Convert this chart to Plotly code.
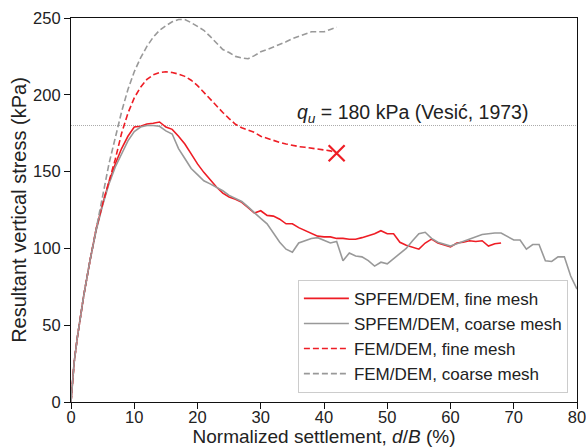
import plotly.graph_objects as go

# ---------------- data ----------------
sp_fine_x = [0, 0.5, 1, 2, 3, 4, 5, 6, 7, 8, 9, 10, 11, 12, 13, 14, 15, 16, 17, 18, 19, 20,
             21, 22, 23, 24, 25, 26, 27, 28, 29, 30, 31, 32, 33, 34, 35, 36, 37, 38, 39, 40,
             41, 42, 43, 44, 45, 46, 47, 48, 49, 50, 51, 52, 53, 54, 55, 56, 57, 58, 59, 60,
             61, 62, 63, 64, 65, 66, 67, 68]
sp_fine_y = [0, 26, 42, 69, 92, 113, 129, 143, 155, 165, 173, 179, 179.5, 181, 181.5, 182.3,
             179, 177.5, 173, 168, 161.5, 155, 149.5, 144.5, 140, 136, 133.5, 132, 130, 126.5,
             123, 124.5, 121.5, 121, 119, 116, 116, 113.5, 111.5, 110, 108, 107.5, 107.5, 106.5,
             106.5, 106, 106, 107, 108, 109.5, 111.5, 109.5, 109.5, 104, 102, 100.5, 99.5, 103.5,
             106, 103.5, 102.5, 101, 103.5, 104, 105, 104.5, 105, 101.5, 103, 103.5]

sp_coarse_x = [0, 0.5, 1, 2, 3, 4, 5, 6, 7, 8, 9, 10, 11, 12, 13, 14, 15, 16, 17, 18, 19, 20,
               21, 22, 23, 24, 25, 26, 27, 28, 29, 30, 31, 32, 33, 34, 35, 36, 37, 38, 39, 40,
               41, 42, 43, 44, 45, 46, 47, 48, 49, 50, 51, 52, 53, 54, 55, 56, 57, 58, 59, 60,
               61, 62, 63, 64, 65, 66, 67, 68, 69, 70, 71, 72, 73, 74, 75, 76, 77, 78, 79, 80]
sp_coarse_y = [0, 26, 42, 69, 92, 112, 128, 142, 153, 162, 170, 176, 179, 180, 180, 179.5,
               176.5, 174.5, 165, 158.5, 152, 148, 144, 142, 140, 137.5, 134.5, 132.5, 130.5, 127,
               123, 119.5, 116, 110, 104, 99.5, 97.5, 103.5, 105, 106.5, 107, 105, 103.5, 104.5,
               92, 97, 95, 94.5, 92, 88.5, 91, 90, 93.5, 97, 100, 105, 109.5, 110.5, 106.5, 104,
               102.5, 101.5, 103, 104.5, 106.5, 108, 109, 109.5, 110, 110, 108, 105.5, 105.5, 99.5,
               102.5, 102.5, 92, 91.5, 94.5, 94.5, 82, 73.5]

fem_fine_x = [0, 0.5, 1, 2, 3, 4, 5, 6, 7, 8, 9, 10, 11, 12, 13, 14, 15, 16, 17, 18, 19, 20,
              21, 22, 23, 24, 25, 26, 27, 28, 29, 30, 31, 32, 33, 34, 35, 36, 37, 38, 39, 40,
              41, 42]
fem_fine_y = [0, 26, 42, 69, 92, 113, 129, 143, 158, 175, 188, 198, 205, 210, 213, 214.5, 215,
              214.5, 213.5, 212, 209.5, 206, 201.5, 197, 192.5, 188.5, 184.5, 180.8, 178.5, 177,
              175.5, 173, 171.5, 170, 169, 168, 167, 166.3, 165.8, 165.3, 164.8, 164.3, 163.5, 162]

fem_coarse_x = [0, 0.5, 1, 2, 3, 4, 5, 6, 7, 8, 9, 10, 11, 12, 13, 14, 15, 16, 17, 18, 19, 20,
                21, 22, 23, 24, 25, 26, 27, 28, 29, 30, 31, 32, 33, 34, 35, 36, 37, 38, 39, 40,
                41, 42]
fem_coarse_y = [0, 26, 42, 69, 92, 113, 135, 155, 172, 189, 203.5, 215, 224, 231.5, 237.5, 242,
                245, 247.5, 249, 249, 247, 244.5, 242, 238, 233.5, 229.5, 227.5, 225, 224, 223.5,
                225.5, 228, 229.5, 231, 232.5, 234.5, 236.5, 238, 239.5, 241, 241, 241, 242.5, 244]

failure_x = [42]
failure_y = [162]

qu_value = 180
x_ticks = [0, 10, 20, 30, 40, 50, 60, 70, 80]
y_ticks = [0, 50, 100, 150, 200, 250]

# ---------------- style ----------------
RED = "#EE1D25"
GREY = "#999999"
FONT = "Liberation Sans, Arial, Helvetica, sans-serif"
TXT = "#222222"

fig = go.Figure()

fig.add_trace(go.Scatter(x=sp_fine_x, y=sp_fine_y, mode="lines", name="SPFEM/DEM, fine mesh",
                         line=dict(color=RED, width=1.6)))
fig.add_trace(go.Scatter(x=sp_coarse_x, y=sp_coarse_y, mode="lines", name="SPFEM/DEM, coarse mesh",
                         line=dict(color=GREY, width=1.6)))
fig.add_trace(go.Scatter(x=fem_fine_x, y=fem_fine_y, mode="lines", name="FEM/DEM, fine mesh",
                         line=dict(color=RED, width=1.6, dash="6px,3px")))
fig.add_trace(go.Scatter(x=fem_coarse_x, y=fem_coarse_y, mode="lines", name="FEM/DEM, coarse mesh",
                         line=dict(color=GREY, width=1.6, dash="6px,3px")))
fig.add_trace(go.Scatter(x=failure_x, y=failure_y, mode="markers", showlegend=False,
                         marker=dict(symbol="x-thin", size=16, color=RED,
                                     line=dict(color=RED, width=2.2))))

fig.add_hline(y=qu_value, line=dict(color="#AAAAAA", width=1, dash="1px,1px"), layer="below")

fig.add_annotation(x=72.6, y=qu_value, xref="x", yref="y", xanchor="right", yanchor="bottom",
                   yshift=-2, showarrow=False,
                   text=f"<i>q<sub>u</sub></i> = {qu_value} kPa (Vesić, 1973)",
                   font=dict(family=FONT, size=19.5, color=TXT))

axis_common = dict(showline=True, linecolor="#111111", linewidth=1.2, mirror=True,
                   ticks="outside", ticklen=6, tickwidth=1.2, tickcolor="#111111",
                   showgrid=False, zeroline=False, ticklabeloverflow="allow",
                   tickfont=dict(family=FONT, size=16.5, color=TXT))

fig.update_xaxes(range=[0, 80], tickvals=x_ticks, ticklabelstandoff=-6,
                 title=dict(text="Normalized settlement, <i>d</i>/<i>B</i> (%)",
                            font=dict(family=FONT, size=19, color=TXT), standoff=2),
                 **axis_common)
fig.update_yaxes(range=[0, 250], tickvals=y_ticks,
                 title=dict(text="Resultant vertical stress (kPa)",
                            font=dict(family=FONT, size=20, color=TXT), standoff=1),
                 **axis_common)

fig.update_layout(
    width=586, height=447,
    margin=dict(l=71, r=9, t=18, b=45, autoexpand=False),
    plot_bgcolor="white", paper_bgcolor="white",
    font=dict(family=FONT, color=TXT),
    legend=dict(x=0.982, y=0.024, xanchor="right", yanchor="bottom",
                bgcolor="rgba(255,255,255,0.85)", bordercolor="#CCCCCC", borderwidth=1,
                font=dict(family=FONT, size=17, color=TXT),
                itemwidth=45, tracegroupgap=0),
    showlegend=True,
)

fig.write_html("out.html")
